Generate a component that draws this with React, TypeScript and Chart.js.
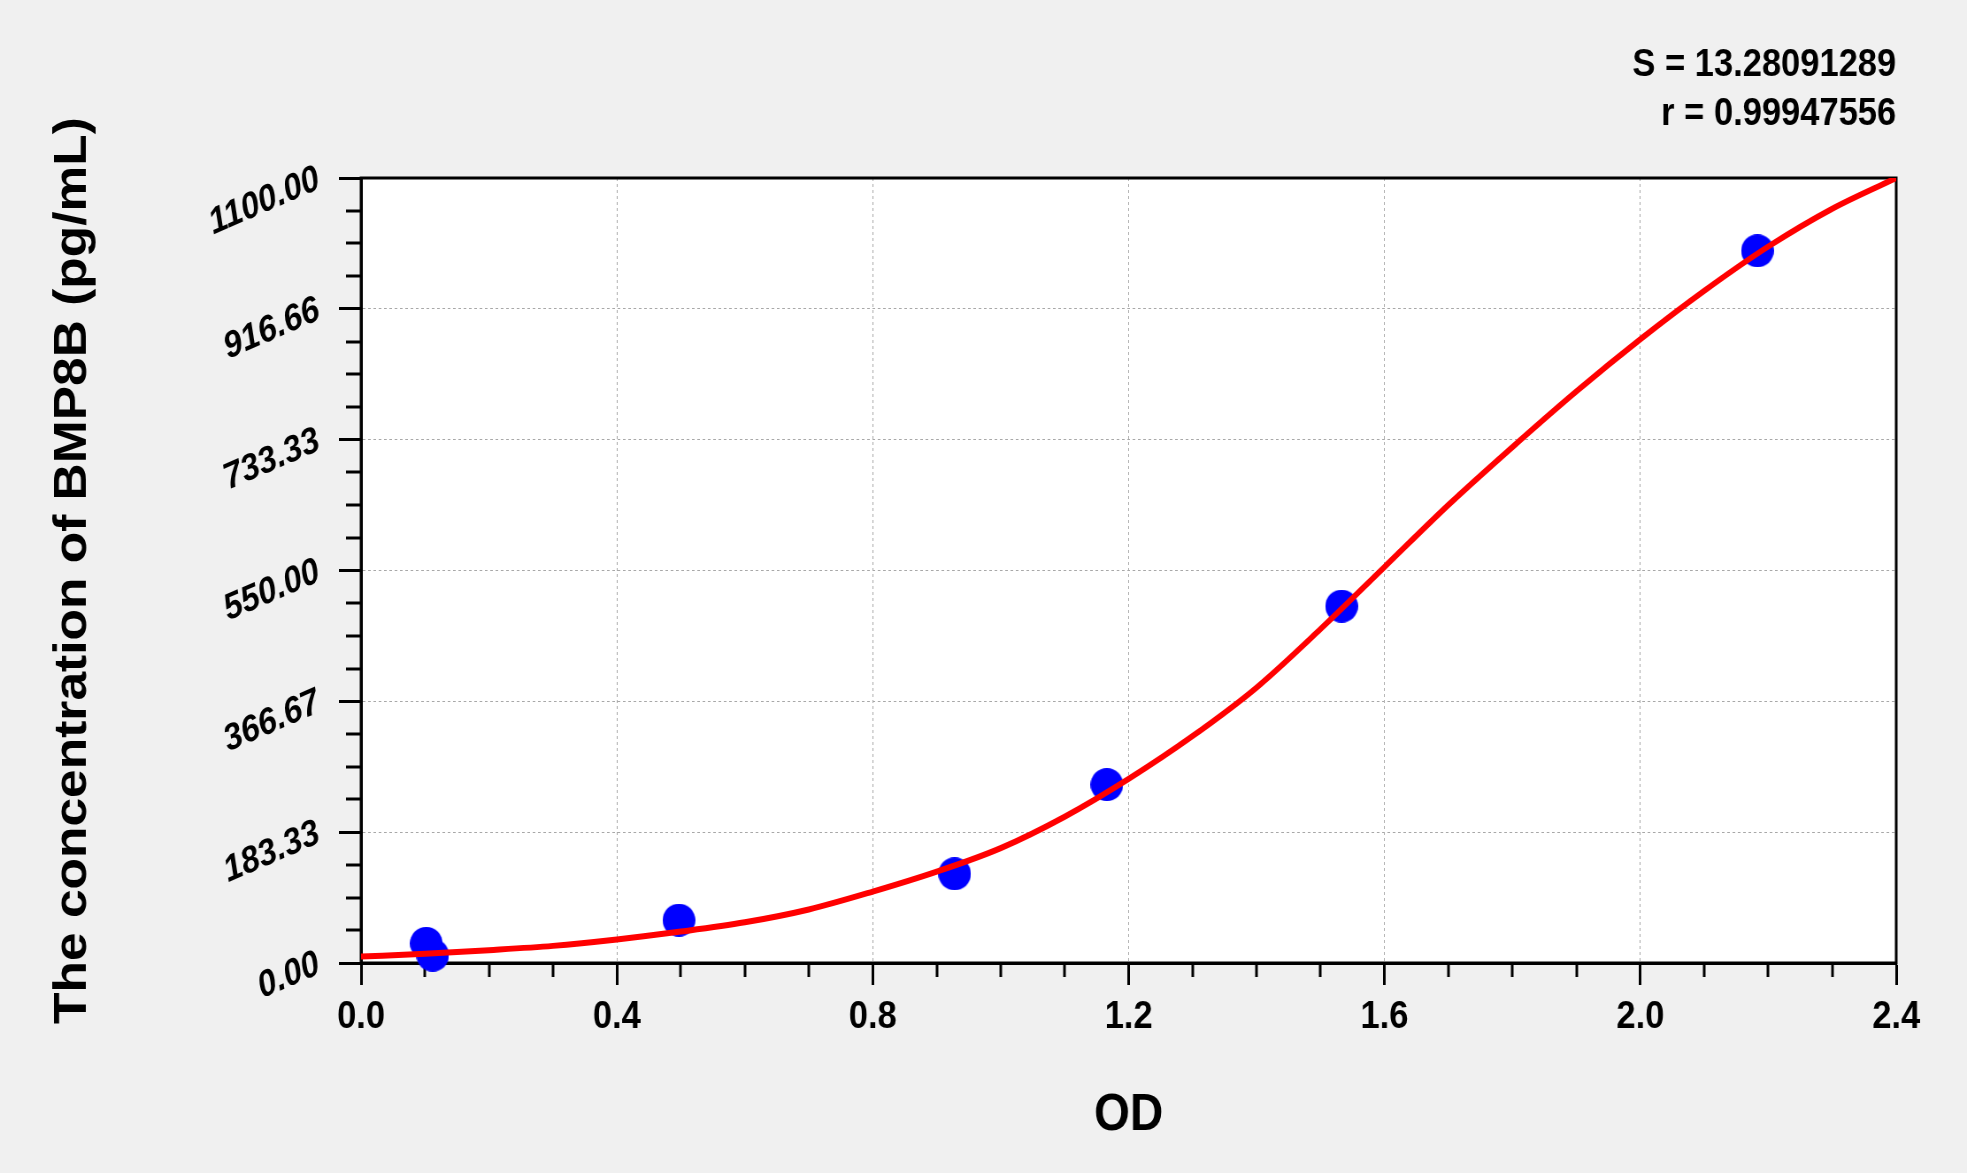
import { useEffect, useRef } from 'react';
import { Chart, ChartConfiguration, registerables } from 'chart.js';

Chart.register(...registerables);

// Standard points (OD vs concentration)
const STD_OD = [0.102, 0.112, 0.497, 0.928, 1.166, 1.533, 2.183];
const STD_CONC = [27.5, 11, 60, 125, 250, 500, 998];

// Fitted curve
const FIT_OD = [0.0, 0.1, 0.2, 0.3, 0.4, 0.5, 0.6, 0.7, 0.8, 0.9, 1.0, 1.1, 1.2,
  1.3, 1.4, 1.5, 1.6, 1.7, 1.8, 1.9, 2.0, 2.1, 2.2, 2.3, 2.4];
const FIT_CONC = [9, 13, 18, 24, 33, 44, 57, 75, 100, 128, 161, 205, 258,
  318, 386, 468, 555, 642, 723, 801, 874, 942, 1004, 1057, 1100];

const X_TICK_LABELS = ['0.0', '0.4', '0.8', '1.2', '1.6', '2.0', '2.4'];
const Y_TICK_LABELS = ['0.00', '183.33', '366.67', '550.00', '733.33', '916.66', '1100.00'];

const STATS = ['S = 13.28091289', 'r = 0.99947556'];

const FONT = "'Liberation Sans', Arial, Helvetica, sans-serif";

// the original's lettering is narrow, so the canvas is drawn wider and shown
// squeezed to page size
const VIEW_W = 1967;
const VIEW_H = 1173;
const CANVAS_W = 2223;
const SQUEEZE = VIEW_W / CANVAS_W;

// round dot after the squeeze
function makeDot(diameter: number) {
  const dot = document.createElement('canvas');
  const w = Math.round(diameter / SQUEEZE);
  dot.width = w;
  dot.height = diameter;
  const c = dot.getContext('2d');
  if (c) {
    c.fillStyle = '#0000ff';
    c.beginPath();
    c.ellipse(w / 2, diameter / 2, w / 2, diameter / 2, 0, 0, Math.PI * 2);
    c.fill();
  }
  return dot;
}

// white plot area, full frame and the minor ticks
const framePlugin = {
  id: 'frame',
  beforeDraw(chart: Chart) {
    const { ctx, chartArea: a } = chart;
    ctx.save();
    ctx.fillStyle = '#ffffff';
    ctx.fillRect(a.left, a.top, a.right - a.left, a.bottom - a.top);
    ctx.restore();
  },
  beforeDatasetsDraw(chart: Chart) {
    const { ctx, chartArea: a, scales } = chart;
    ctx.save();
    ctx.strokeStyle = '#000000';
    ctx.lineWidth = 3;
    ctx.strokeRect(a.left, a.top, a.right - a.left, a.bottom - a.top);
    ctx.beginPath();
    for (let i = 1; i < 24; i++) {
      if (i % 4 === 0) continue;
      const px = Math.round(scales.x.getPixelForValue(i * 0.1));
      ctx.moveTo(px, a.bottom);
      ctx.lineTo(px, a.bottom + 14);
      const py = Math.round(scales.y.getPixelForValue((i * 1100) / 24));
      ctx.moveTo(a.left - 17, py);
      ctx.lineTo(a.left, py);
    }
    ctx.stroke();
    ctx.restore();
  }
};

export default function App() {
  const chartRef = useRef<HTMLCanvasElement>(null);
  const chartInstance = useRef<Chart | null>(null);

  useEffect(() => {
    document.body.style.margin = '0';
    document.body.style.overflow = 'hidden';
    if (!chartRef.current) return;
    const ctx = chartRef.current.getContext('2d');
    if (!ctx) return;

    if (chartInstance.current) chartInstance.current.destroy();

    Chart.defaults.font.family = FONT;
    Chart.defaults.color = '#000000';

    const config: ChartConfiguration = {
      type: 'scatter',
      data: {
        datasets: [
          {
            label: 'Fit',
            data: FIT_OD.map((x, i) => ({ x, y: FIT_CONC[i] })),
            showLine: true,
            borderColor: '#ff0000',
            borderWidth: 6,
            pointRadius: 0,
            cubicInterpolationMode: 'monotone',
            order: 0
          },
          {
            label: 'Standards',
            data: STD_OD.map((x, i) => ({ x, y: STD_CONC[i] })),
            showLine: false,
            pointStyle: makeDot(33),
            pointRadius: 17,
            backgroundColor: '#0000ff',
            borderWidth: 0,
            clip: false,
            order: 1
          }
        ]
      },
      options: {
        responsive: false,
        devicePixelRatio: 1,
        animation: false,
        events: [],
        layout: { padding: { left: 0, top: 0, right: 80, bottom: 0 } },
        plugins: {
          legend: { display: false },
          tooltip: { enabled: false },
          title: {
            display: true,
            text: STATS,
            align: 'end',
            color: '#000000',
            font: { size: 39, weight: 'bold', lineHeight: 49 / 39 },
            padding: { top: 41, bottom: 39 }
          }
        },
        scales: {
          x: {
            type: 'linear',
            min: 0,
            max: 2.4,
            afterFit: (scale: any) => { scale.height = 210; },
            ticks: {
              stepSize: 0.4,
              autoSkip: false,
              maxRotation: 0,
              minRotation: 0,
              padding: 9,
              color: '#000000',
              font: { size: 39, weight: 'bold' },
              callback: (_v: any, i: number) => X_TICK_LABELS[i]
            },
            grid: {
              color: '#a8a8a8',
              lineWidth: 1,
              tickLength: 22,
              tickColor: '#000000',
              tickWidth: 3
            },
            border: { display: true, color: '#000000', width: 3, dash: [3, 3] },
            title: {
              display: true,
              text: 'OD',
              color: '#000000',
              font: { size: 52, weight: 'bold' },
              padding: { top: 0, bottom: 26 }
            }
          },
          y: {
            type: 'linear',
            min: 0,
            max: 1100,
            afterFit: (scale: any) => { scale.width = 408; },
            ticks: {
              count: 7,
              autoSkip: false,
              minRotation: 21,
              maxRotation: 21,
              padding: 23,
              color: '#000000',
              font: { size: 37, weight: 'bold', style: 'italic' },
              callback: (_v: any, i: number) => Y_TICK_LABELS[i]
            },
            grid: {
              color: '#a8a8a8',
              lineWidth: 1,
              tickLength: 25,
              tickColor: '#000000',
              tickWidth: 3
            },
            border: { display: true, color: '#000000', width: 3, dash: [3, 3] },
            title: {
              display: true,
              text: 'The concentration of BMP8B (pg/mL)',
              color: '#000000',
              font: { size: 51.5, weight: 'bold' },
              padding: { top: 52, bottom: 0 }
            }
          }
        }
      },
      plugins: [framePlugin]
    };

    chartInstance.current = new Chart(ctx, config);

    return () => {
      if (chartInstance.current) {
        chartInstance.current.destroy();
        chartInstance.current = null;
      }
    };
  }, []);

  return (
    <div style={{ width: VIEW_W, height: VIEW_H, background: '#f0f0f0' }}>
      <canvas
        ref={chartRef}
        width={CANVAS_W}
        height={VIEW_H}
        style={{ display: 'block', width: VIEW_W + 'px', height: VIEW_H + 'px' }}
      ></canvas>
    </div>
  );
}
